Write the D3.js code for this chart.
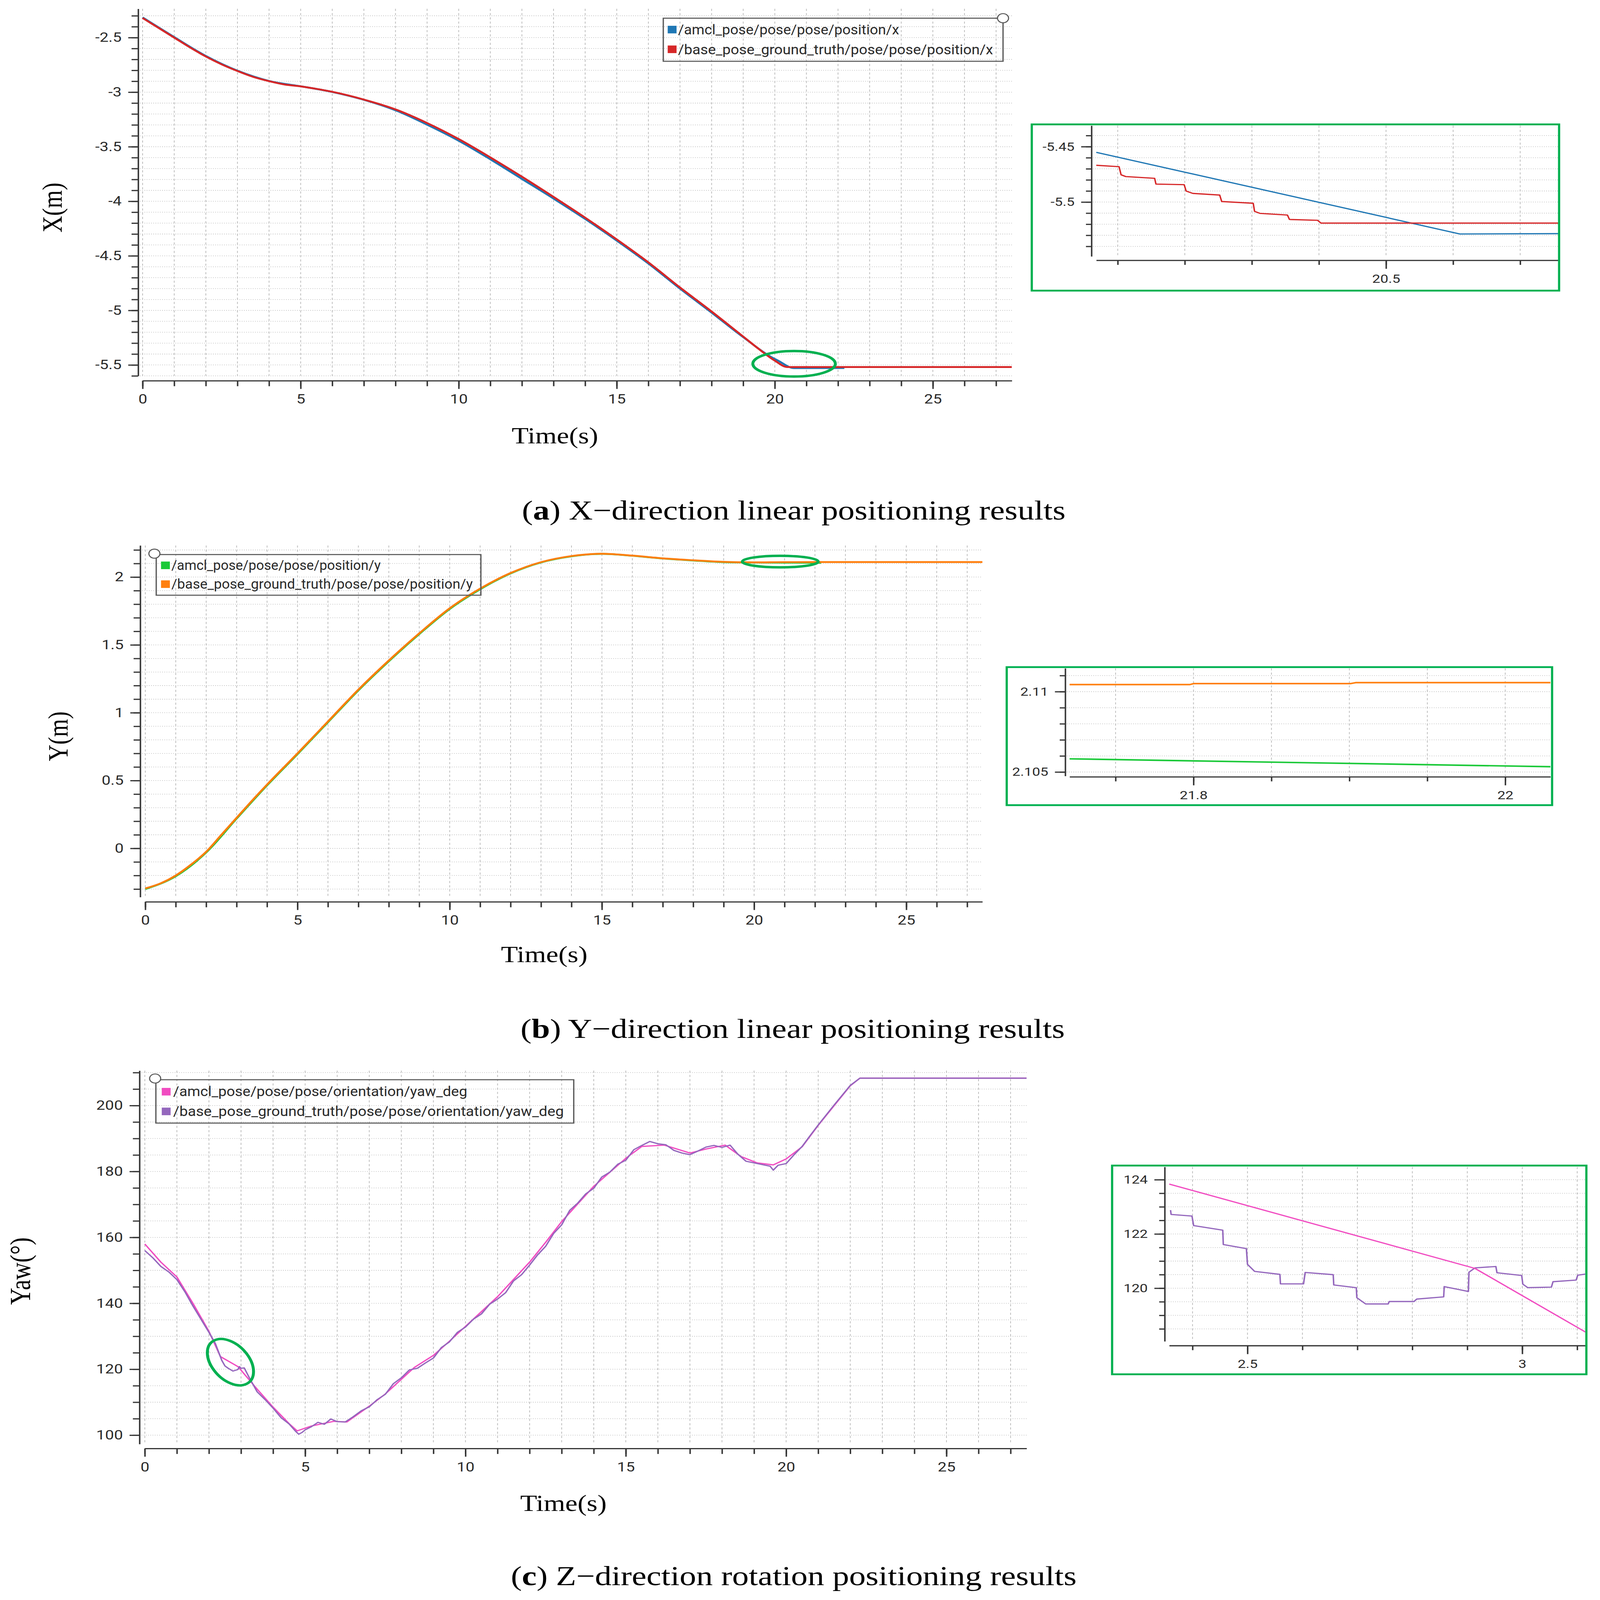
<!DOCTYPE html>
<html>
<head>
<meta charset="utf-8">
<script src="https://cdn.jsdelivr.net/npm/d3@7"></script>
<style>
  html, body { margin: 0; padding: 0; width: 100%; height: 100%; background: #fff; overflow: hidden; }
  #chart { width: 100%; height: 100%; }
  svg { display: block; }
</style>
</head>
<body>
<div id="chart"></div>
<script>
// ---------- data: X position ----------
const posXTime  = [0, 0.5, 1, 1.5, 2, 2.5, 3, 3.5, 4, 4.5, 5, 5.5, 6, 7, 8, 9, 10, 11, 12, 13, 14, 15, 16, 17, 18, 19, 19.5, 20, 20.4, 27.5];
const posXTruth = [-2.32, -2.41, -2.5, -2.59, -2.673, -2.745, -2.806, -2.86, -2.899, -2.93, -2.947, -2.97, -2.997, -3.068, -3.158, -3.283, -3.43, -3.598, -3.775, -3.96, -4.15, -4.35, -4.56, -4.79, -5.01, -5.24, -5.355, -5.46, -5.519, -5.519];
const posXAmclTime = [0, 1, 2, 3, 4, 5, 6, 7, 8, 9, 10, 11, 12, 13, 14, 15, 16, 17, 18, 19, 20, 20.07, 20.61, 22.2];
const posXAmcl     = [-2.315, -2.495, -2.668, -2.803, -2.897, -2.946, -2.998, -3.07, -3.166, -3.298, -3.445, -3.615, -3.795, -3.975, -4.162, -4.36, -4.57, -4.8, -5.02, -5.245, -5.445, -5.455, -5.529, -5.528];
// zoomed detail of X around t = 20.5 s
const zoomXTruthTime = [20.068, 20.102, 20.105, 20.112, 20.155, 20.157, 20.199, 20.202, 20.212, 20.252, 20.255, 20.302, 20.304, 20.312, 20.353, 20.356, 20.398, 20.403, 20.758];
const zoomXTruth     = [-5.4668, -5.4681, -5.4754, -5.477, -5.4786, -5.4838, -5.4843, -5.4901, -5.4922, -5.4937, -5.4995, -5.5011, -5.5084, -5.5102, -5.5117, -5.5157, -5.5165, -5.519, -5.519];
const zoomXAmclTime  = [20.068, 20.61, 20.758];
const zoomXAmcl      = [-5.4551, -5.5288, -5.5285];

// ---------- data: Y position ----------
const posYTime  = [0, 0.5, 1, 1.5, 2, 2.5, 3, 3.5, 4, 5, 6, 7, 8, 9, 10, 11, 12, 13, 14, 15, 16, 17, 18, 19, 20, 21, 22, 27.5];
const posYTruth = [-0.295, -0.258, -0.2, -0.12, -0.025, 0.1, 0.225, 0.35, 0.47, 0.7, 0.935, 1.17, 1.385, 1.585, 1.77, 1.915, 2.03, 2.11, 2.155, 2.172, 2.158, 2.138, 2.124, 2.112, 2.1085, 2.1103, 2.1105, 2.1106];
const posYAmclTime = [0, 1, 2, 3, 4, 5, 6, 7, 8, 9, 10, 11, 12, 13, 14, 15, 16, 17, 18, 19, 20, 21, 21.72, 22.03, 22.2];
const posYAmcl     = [-0.3, -0.205, -0.03, 0.22, 0.465, 0.695, 0.93, 1.165, 1.38, 1.58, 1.765, 1.91, 2.027, 2.108, 2.153, 2.171, 2.157, 2.137, 2.122, 2.11, 2.107, 2.1062, 2.10582, 2.10533, 2.1051];
// zoomed detail of Y around t = 21.9 s
const zoomYTruthTime = [21.7205, 21.7977, 21.8, 21.9006, 21.904, 22.029];
const zoomYTruth     = [2.11044, 2.11044, 2.1105, 2.1105, 2.11056, 2.11056];
const zoomYAmclTime  = [21.7205, 22.029];
const zoomYAmcl      = [2.10582, 2.10533];

// ---------- data: yaw ----------
const yawTime  = [0, 0.25, 0.5, 0.75, 1, 1.25, 1.5, 1.75, 2, 2.2, 2.4, 2.5, 2.6, 2.75, 2.9, 2.95, 3, 3.1, 3.25, 3.5, 3.75, 4, 4.25, 4.5, 4.7, 4.8, 4.9, 5, 5.2, 5.4, 5.6, 5.8, 6, 6.25, 6.5, 6.75, 7, 7.25, 7.5, 7.75, 8, 8.25, 8.5, 8.75, 9, 9.25, 9.5, 9.75, 10, 10.25, 10.5, 10.75, 11, 11.25, 11.5, 11.75, 12, 12.25, 12.5, 12.75, 13, 13.25, 13.5, 13.75, 14, 14.25, 14.5, 14.75, 15, 15.25, 15.5, 15.75, 16, 16.25, 16.5, 16.75, 17, 17.25, 17.5, 17.75, 18, 18.25, 18.5, 18.75, 19, 19.25, 19.5, 19.6, 19.75, 20, 20.25, 20.5, 20.75, 21, 21.5, 22, 22.3, 27.5];
const yawTruth = [156, 153.8, 151.2, 149.5, 147.2, 143.5, 139.2, 135.2, 131.2, 127.8, 122.7, 121, 120.3, 119.45, 119.9, 120.8, 120.3, 120.4, 117.6, 113.2, 110.8, 108.2, 105.3, 103.4, 101.2, 100.3, 100.8, 101.6, 102.6, 103.9, 103.3, 104.9, 104.1, 104, 105.6, 107.4, 108.6, 110.8, 112.4, 115.6, 117.4, 119.8, 120.3, 121.9, 123.4, 126.6, 128.3, 131.2, 132.8, 135.2, 136.8, 139.7, 141.3, 143.2, 146.8, 148.7, 151.6, 154.7, 157.3, 161.2, 163.8, 168.2, 170.4, 173.2, 174.9, 178.3, 179.8, 182.2, 183.4, 186.6, 187.9, 189.1, 188.4, 188.1, 186.4, 185.6, 185.1, 186.2, 187.4, 187.9, 187.3, 188, 185.2, 183.1, 182.6, 182.1, 181.6, 180.4, 181.9, 182.4, 185.1, 187.6, 190.9, 194.1, 200.2, 206.1, 208.3, 208.3];
const yawAmclTime = [0, 0.5, 1, 1.5, 2, 2.358, 2.914, 3.118, 3.5, 4, 4.5, 4.75, 5.2, 5.9, 6.3, 7, 7.5, 8.4, 9, 9.5, 10, 11, 12, 12.5, 13, 14, 15, 15.5, 16.2, 17, 17.5, 18.1, 18.6, 19.1, 19.6, 20, 20.5, 21, 21.5, 22, 22.3, 27.5];
const yawAmcl     = [158, 152.5, 148, 140, 131.5, 123.84, 120.73, 118.35, 114, 108.5, 103.5, 101.3, 102.8, 104.2, 104, 108.8, 112.5, 120.5, 124.2, 128.5, 133, 142, 152.5, 158.5, 164.8, 175.5, 184, 187.6, 188, 185.6, 186.8, 188, 184.5, 182.6, 182, 183.8, 187.5, 194, 200, 206, 208.3, 208.3];
// zoomed detail of yaw around t = 2.7 s
const zoomYawTruthTime = [2.36, 2.361, 2.399, 2.402, 2.455, 2.456, 2.498, 2.5, 2.513, 2.559, 2.56, 2.602, 2.605, 2.656, 2.657, 2.698, 2.699, 2.715, 2.756, 2.758, 2.803, 2.808, 2.857, 2.858, 2.902, 2.903, 2.914, 2.952, 2.954, 2.999, 3.001, 3.01, 3.053, 3.056, 3.098, 3.101, 3.118];
const zoomYawTruth     = [122.88, 122.72, 122.66, 122.31, 122.14, 121.61, 121.46, 120.88, 120.62, 120.51, 120.16, 120.16, 120.58, 120.5, 120.12, 120.02, 119.65, 119.42, 119.42, 119.51, 119.51, 119.6, 119.68, 120.06, 119.88, 120.59, 120.75, 120.8, 120.57, 120.47, 120.15, 120.02, 120.04, 120.24, 120.3, 120.48, 120.53];
const zoomYawAmclTime  = [2.3576, 2.914, 3.118];
const zoomYawAmcl      = [123.84, 120.73, 118.35];

// ---------- ticks and labels ----------
const timeTicks = [0, 5, 10, 15, 20, 25];
const posXTicks = [-2.5, -3, -3.5, -4, -4.5, -5, -5.5];
const posYTicks = [0, 0.5, 1, 1.5, 2];
const yawTicks  = [100, 120, 140, 160, 180, 200];
const zoomXTimeTicks = [20.5];   const zoomXValueTicks = [-5.45, -5.5];
const zoomYTimeTicks = [21.8, 22]; const zoomYValueTicks = [2.105, 2.11];
const zoomYawTimeTicks = [2.5, 3]; const zoomYawValueTicks = [120, 122, 124];

const legendX   = ['/amcl_pose/pose/pose/position/x', '/base_pose_ground_truth/pose/pose/position/x'];
const legendY   = ['/amcl_pose/pose/pose/position/y', '/base_pose_ground_truth/pose/pose/position/y'];
const legendYaw = ['/amcl_pose/pose/pose/orientation/yaw_deg', '/base_pose_ground_truth/pose/pose/orientation/yaw_deg'];

// highlighted areas (data coordinates)
const markX   = { t: 20.61, v: -5.489 };
const markY   = { t: 20.86, v: 2.114 };
const markYaw = { t: 2.67,  v: 122.15 };

// ---------- drawing ----------
const W = 4342, H = 5274;
// the figure is laid out in a 4342 x 5274 frame and stretched onto the window
const svg = d3.select('#chart').append('svg')
    .attr('viewBox', `0 0 ${W} ${H}`)
    .attr('width', '100%')
    .attr('height', '100%')
    .attr('preserveAspectRatio', 'none')
    .style('background', '#fff');

const axisColor = '#363636';
const gridColor = '#b9b9b9';
const markGreen = '#00b050';
let clipId = 0;

function stepsIn(domain, step) {
    const lo = Math.min(domain[0], domain[1]), hi = Math.max(domain[0], domain[1]);
    const i0 = Math.ceil(lo / step - 1e-6), i1 = Math.floor(hi / step + 1e-6);
    return d3.range(i0, i1 + 1).map(i => +(i * step).toFixed(6));
}

function drawPlot(p) {
    const g = svg.append('g');
    const x = d3.scaleLinear().domain(p.xDomain).range(p.xRange);
    const y = d3.scaleLinear().domain(p.yDomain).range(p.yRange);
    const left = p.canvasLeft, right = p.canvasRight || p.xRange[1];
    const top = p.yRange[1], bottom = p.yRange[0];

    // grid
    const gGrid = g.append('g');
    gGrid.selectAll('line.v').data(stepsIn(p.xDomain, p.xMinor).filter(d => x(d) > left + 3 && x(d) < right - 1))
        .join('line').attr('class', 'v')
        .attr('x1', d => x(d)).attr('x2', d => x(d))
        .attr('y1', top).attr('y2', bottom)
        .attr('stroke', gridColor).attr('stroke-width', 2)
        .attr('stroke-dasharray', '7,7');
    gGrid.selectAll('line.h').data(stepsIn(p.yDomain, p.yMinor).filter(d => y(d) >= top && y(d) <= bottom))
        .join('line').attr('class', 'h')
        .attr('x1', left).attr('x2', right)
        .attr('y1', d => y(d)).attr('y2', d => y(d))
        .attr('stroke', gridColor).attr('stroke-width', 2)
        .attr('stroke-dasharray', '2,4');

    // series
    const id = 'clip' + (clipId++);
    g.append('clipPath').attr('id', id).append('rect')
        .attr('x', left).attr('y', top - 2)
        .attr('width', right - left).attr('height', bottom - top + 4);
    const gLines = g.append('g').attr('clip-path', `url(#${id})`);
    p.series.forEach(s => {
        const pts = s.t.map((t, i) => [t, s.v[i]]);
        const line = d3.line().x(d => x(d[0])).y(d => y(d[1])).curve(s.curve || d3.curveLinear);
        gLines.append('path')
            .datum(pts)
            .attr('d', line)
            .attr('fill', 'none')
            .attr('stroke', s.color)
            .attr('stroke-width', s.width)
            .attr('stroke-linejoin', 'round');
    });

    // axes
    const fmt = d => String(d);
    const styleAxis = a => {
        a.selectAll('line').attr('stroke', axisColor).attr('stroke-width', 4);
        a.selectAll('.domain').attr('stroke', axisColor).attr('stroke-width', 4);
        a.selectAll('text')
            .attr('fill', '#2a2a2a')
            .style('font-family', 'Roboto, "DejaVu Sans", sans-serif')
            .style('font-size', p.fontSize + 'px');
    };
    g.append('g').attr('transform', `translate(${p.yAxisX},0)`)
        .call(d3.axisLeft(y).tickValues(stepsIn(p.yDomain, p.yMinor)).tickSize(p.minorLen).tickFormat('').tickSizeOuter(0))
        .call(a => a.select('.domain').remove())
        .call(styleAxis);
    g.append('g').attr('transform', `translate(${p.yAxisX},0)`)
        .call(d3.axisLeft(y).tickValues(p.yTicks).tickSize(p.majorLen).tickPadding(p.pad).tickFormat(fmt).tickSizeOuter(0))
        .call(styleAxis);
    g.append('g').attr('transform', `translate(0,${p.xAxisY})`)
        .call(d3.axisBottom(x).tickValues(stepsIn(p.xDomain, p.xMinor)).tickSize(p.minorLen).tickFormat('').tickSizeOuter(0))
        .call(a => a.select('.domain').remove())
        .call(styleAxis);
    g.append('g').attr('transform', `translate(0,${p.xAxisY})`)
        .call(d3.axisBottom(x).tickValues(p.xTicks).tickSize(p.majorLen).tickPadding(p.pad).tickFormat(fmt).tickSizeOuter(0))
        .call(styleAxis);

    return { g, x, y };
}

function drawLegend(lg) {
    const g = svg.append('g');
    g.append('rect')
        .attr('x', lg.x0).attr('y', lg.y0)
        .attr('width', lg.x1 - lg.x0).attr('height', lg.y1 - lg.y0)
        .attr('fill', 'none').attr('stroke', '#5a5a5a').attr('stroke-width', 3.5);
    lg.labels.forEach((label, i) => {
        g.append('rect')
            .attr('x', lg.squareX).attr('y', lg.squareY[i])
            .attr('width', 24).attr('height', 25)
            .attr('fill', lg.colors[i]);
        g.append('text')
            .attr('x', lg.textX).attr('y', lg.baseY[i])
            .attr('textLength', lg.lengths[i])
            .attr('lengthAdjust', 'spacingAndGlyphs')
            .attr('fill', '#2a2a2a')
            .style('font-family', 'Roboto, "DejaVu Sans", sans-serif')
            .style('font-size', '44px')
            .text(label);
    });
    g.append('circle')
        .attr('cx', lg.circle[0]).attr('cy', lg.circle[1]).attr('r', 15)
        .attr('fill', '#fff').attr('stroke', '#555').attr('stroke-width', 3);
}

function drawInsetFrame(b) {
    svg.append('rect')
        .attr('x', b[0]).attr('y', b[1])
        .attr('width', b[2] - b[0]).attr('height', b[3] - b[1])
        .attr('fill', '#fff');
}
function drawInsetBorder(b) {
    svg.append('rect')
        .attr('x', b[0]).attr('y', b[1])
        .attr('width', b[2] - b[0]).attr('height', b[3] - b[1])
        .attr('fill', 'none').attr('stroke', markGreen).attr('stroke-width', 6);
}

function serifText(x, y, size, txt, rotate) {
    const t = svg.append('text')
        .attr('x', x).attr('y', y)
        .attr('text-anchor', 'middle')
        .attr('fill', '#000')
        .style('font-family', '"Liberation Serif", "Times New Roman", serif')
        .style('font-size', size + 'px')
        .text(txt);
    if (rotate) t.attr('transform', `rotate(-90,${x},${y})`);
    return t;
}

function caption(x, y, letter, rest) {
    const t = svg.append('text')
        .attr('x', x).attr('y', y)
        .attr('text-anchor', 'middle')
        .attr('fill', '#000')
        .style('font-family', '"Liberation Serif", "Times New Roman", serif')
        .style('font-size', '90px');
    t.append('tspan').text('(');
    t.append('tspan').style('font-weight', 'bold').text(letter);
    t.append('tspan').text(') ' + rest);
}

function ellipse(plot, mark, rx, ry, angle) {
    const cx = plot.x(mark.t), cy = plot.y(mark.v);
    svg.append('ellipse')
        .attr('cx', cx).attr('cy', cy).attr('rx', rx).attr('ry', ry)
        .attr('transform', `rotate(${angle},${cx},${cy})`)
        .attr('fill', 'none').attr('stroke', markGreen).attr('stroke-width', 8);
}

const mainAxis = { majorLen: 27, minorLen: 18, pad: 18, fontSize: 43 };
const insetAxis = { majorLen: 28, minorLen: 15, pad: 18, fontSize: 39 };

// ----- panel (a) -----
const plotA = drawPlot(Object.assign({
    xDomain: [0, 27.5], xRange: [387, 2746],
    yDomain: [-5.6, -2.236], yRange: [1239, 29],
    canvasLeft: 380, yAxisX: 375, xAxisY: 1255,
    xTicks: timeTicks, xMinor: 1, yTicks: posXTicks, yMinor: 0.1,
    series: [
        { t: posXAmclTime, v: posXAmcl, color: '#1f77b4', width: 6, curve: d3.curveMonotoneX },
        { t: posXTime, v: posXTruth, color: '#d62728', width: 6, curve: d3.curveMonotoneX }
    ]
}, mainAxis));
drawLegend({
    x0: 1800, y0: 60, x1: 2722, y1: 202, circle: [2722, 60],
    squareX: 1812, squareY: [85, 150], textX: 1840, baseY: [113, 179], lengths: [600, 855],
    labels: legendX, colors: ['#1f77b4', '#d62728']
});
ellipse(plotA, markX, 112, 42, 0);
serifText(168, 684, 76, 'X(m)', true);
serifText(1506, 1461, 75, 'Time(s)');
caption(2154, 1712, 'a', 'X\u2212direction linear positioning results');

drawInsetFrame([2800, 410, 4231, 958]);
drawPlot(Object.assign({
    xDomain: [20.068, 20.758], xRange: [2975, 4231],
    yDomain: [-5.549, -5.431], yRange: [845, 414],
    canvasLeft: 2966, yAxisX: 2962, xAxisY: 858,
    xTicks: zoomXTimeTicks, xMinor: 0.1, yTicks: zoomXValueTicks, yMinor: 0.01,
    series: [
        { t: zoomXAmclTime, v: zoomXAmcl, color: '#1f77b4', width: 4 },
        { t: zoomXTruthTime, v: zoomXTruth, color: '#d62728', width: 4 }
    ]
}, insetAxis));
drawInsetBorder([2800, 410, 4231, 958]);

// ----- panel (b) -----
const plotB = drawPlot(Object.assign({
    xDomain: [0, 27.5], xRange: [394.3, 2666],
    yDomain: [-0.359, 2.233], yRange: [2957, 1798],
    canvasLeft: 386, yAxisX: 380.6, xAxisY: 2972.6,
    xTicks: timeTicks, xMinor: 1, yTicks: posYTicks, yMinor: 0.1,
    series: [
        { t: posYAmclTime, v: posYAmcl, color: '#1ac938', width: 6, curve: d3.curveMonotoneX },
        { t: posYTime, v: posYTruth, color: '#ff7f0e', width: 6, curve: d3.curveMonotoneX }
    ]
}, mainAxis));
drawLegend({
    x0: 424, y0: 1828, x1: 1305, y1: 1962, circle: [419, 1825],
    squareX: 437, squareY: [1851, 1913], textX: 465, baseY: [1879, 1941], lengths: [568, 818],
    labels: legendY, colors: ['#1ac938', '#ff7f0e']
});
ellipse(plotB, markY, 103, 19, 0);
serifText(183, 2427, 76, 'Y(m)', true);
serifText(1477, 3172, 75, 'Time(s)');
caption(2151, 3421, 'b', 'Y\u2212direction linear positioning results');

drawInsetFrame([2732, 2199, 4212, 2654]);
drawPlot(Object.assign({
    xDomain: [21.7205, 22.029], xRange: [2902.6, 4207.5],
    yDomain: [2.10475, 2.11145], yRange: [2558, 2203],
    canvasLeft: 2895, yAxisX: 2890.8, xAxisY: 2560.6,
    xTicks: zoomYTimeTicks, xMinor: 0.05, yTicks: zoomYValueTicks, yMinor: 0.001,
    series: [
        { t: zoomYAmclTime, v: zoomYAmcl, color: '#1ac938', width: 5 },
        { t: zoomYTruthTime, v: zoomYTruth, color: '#ff7f0e', width: 5 }
    ]
}, insetAxis));
drawInsetBorder([2732, 2199, 4212, 2654]);

// ----- panel (c) -----
const plotC = drawPlot(Object.assign({
    xDomain: [0, 27.5], xRange: [393, 2786],
    yDomain: [97.3, 210.6], yRange: [4760, 3529],
    canvasLeft: 384, yAxisX: 378.6, xAxisY: 4774.6,
    xTicks: timeTicks, xMinor: 1, yTicks: yawTicks, yMinor: 5,
    series: [
        { t: yawAmclTime, v: yawAmcl, color: '#f14cc1', width: 4 },
        { t: yawTime, v: yawTruth, color: '#9467bd', width: 4 }
    ]
}, mainAxis));
drawLegend({
    x0: 423, y0: 3559, x1: 1557, y1: 3702, circle: [421, 3555],
    squareX: 439, squareY: [3586, 3651], textX: 470, baseY: [3613, 3679], lengths: [798, 1060],
    labels: legendYaw, colors: ['#f14cc1', '#9467bd']
});
ellipse(plotC, markYaw, 84, 52, 58);
serifText(82, 4190, 78, 'Yaw(\u00b0)', true);
serifText(1529, 4980, 75, 'Time(s)');
caption(2154, 5225, 'c', 'Z\u2212direction rotation positioning results');

drawInsetFrame([3018, 3842, 4305, 4530]);
drawPlot(Object.assign({
    xDomain: [2.3576, 3.118], xRange: [3173, 4307],
    yDomain: [118.04, 124.47], yRange: [4421.5, 3846.6],
    canvasLeft: 3165, canvasRight: 4302, yAxisX: 3160.7, xAxisY: 4435.5,
    xTicks: zoomYawTimeTicks, xMinor: 0.1, yTicks: zoomYawValueTicks, yMinor: 0.5,
    series: [
        { t: zoomYawTruthTime, v: zoomYawTruth, color: '#9467bd', width: 4 },
        { t: zoomYawAmclTime, v: zoomYawAmcl, color: '#f14cc1', width: 4 }
    ]
}, insetAxis));
drawInsetBorder([3018, 3842, 4305, 4530]);
</script>
</body>
</html>
